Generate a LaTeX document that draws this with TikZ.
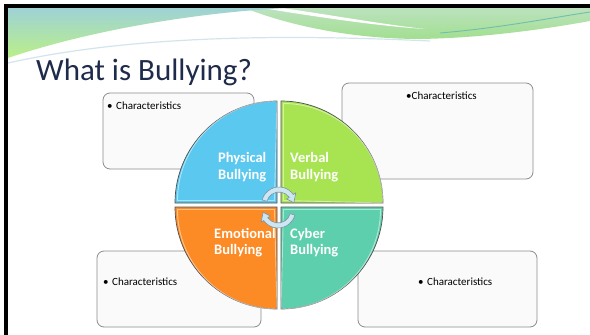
\documentclass[tikz,border=0pt]{standalone}
\usepackage{fontspec}
\setmainfont{Carlito}
\definecolor{physblue}{HTML}{5BC8EF}
\definecolor{verbgreen}{HTML}{A8E452}
\definecolor{emoorange}{HTML}{FC8A25}
\definecolor{cybteal}{HTML}{5ECFAC}
\definecolor{titlecol}{HTML}{1F2B4A}
\definecolor{boxfill}{HTML}{FAFAFA}
\definecolor{boxline}{HTML}{8C8C8C}
\definecolor{qline}{HTML}{505050}
\definecolor{arrfill}{HTML}{CDE6F2}
\definecolor{arrline}{HTML}{7C95A3}
\definecolor{hdrteal}{HTML}{9ED2D6}
\definecolor{hdrlime}{HTML}{BBEF88}
\definecolor{hdrpale}{HTML}{BCE2BE}
\definecolor{hdrblue}{HTML}{92D6EC}
\definecolor{hdrgreen}{HTML}{A2DF90}
\definecolor{hdrline}{HTML}{6EBFAE}
\definecolor{hdrfaint}{HTML}{D2E5EC}
\tikzset{
  cbox/.style={draw=boxline, fill=boxfill, line width=0.8pt, rounded corners=7pt, inner sep=0pt},
  ctext/.style={font=\fontsize{11}{13}\selectfont, text=black, inner sep=0pt},
  quad/.style={draw=qline, line width=0.7pt},
  qglow/.style={draw=white, draw opacity=0.5, line width=0.9pt},
  qtext/.style={font=\bfseries\fontsize{14.5}{16.5}\selectfont, text=white, align=left, inner sep=0pt, anchor=west},
  cyc/.style={fill=arrfill, draw=arrline, line width=0.6pt}
}
\begin{document}
\begin{tikzpicture}[x=1pt,y=-1pt]
\useasboundingbox (0,0) rectangle (590,335);
\fill[white] (0,0) rectangle (590,335);
% header
\shade[top color=hdrpale, middle color=hdrblue, bottom color=hdrgreen]
  (245,8) -- (590,8) -- (590,21) .. controls (540,30) and (480,38) .. (420,39)
  .. controls (360,39) and (295,28) .. (245,8) -- cycle;
\fill[white] (262,8) .. controls (330,19) and (380,26) .. (425,29)
  .. controls (380,24) and (325,14) .. (282,8) -- cycle;
\draw[hdrline, line width=0.9pt] (440,33) .. controls (500,28) and (550,18) .. (590,12);
\draw[hdrfaint, line width=1.2pt] (8,63) .. controls (120,38) and (260,33) .. (430,41);
\shade[top color=hdrteal, bottom color=hdrlime]
  (8,8) -- (288,8) .. controls (200,12) and (90,30) .. (8,58) -- cycle;
% frame
\fill[black] (4,4) rectangle (590,8);
\fill[black] (4,4) rectangle (8,335);
% title
\node[anchor=base west, font=\fontsize{31}{36}\selectfont, text=titlecol, inner sep=0pt] (title) at (36,80) {What is Bullying?};
% boxes
\node[cbox, minimum width=151pt, minimum height=76pt] (b1) at (178.5,131) {};
\node[cbox, minimum width=191pt, minimum height=96pt] (b2) at (437.5,131) {};
\node[cbox, minimum width=164pt, minimum height=76pt] (b3) at (179,289) {};
\node[cbox, minimum width=179pt, minimum height=76pt] (b4) at (447.5,289) {};
\node[ctext, anchor=west] (t1) at (107,106) {•\hspace{3.5pt}Characteristics};
\node[ctext] (t2) at (441.5,96) {•Characteristics};
\node[ctext, anchor=west] (t3) at (103,282) {•\hspace{3.5pt}Characteristics};
\node[ctext, anchor=west] (t4) at (418,282) {•\hspace{3.5pt}Characteristics};
% quadrants
\filldraw[quad, fill=physblue] (277,203) -- (175,203) arc[start angle=180, end angle=270, radius=102] -- cycle;
\filldraw[quad, fill=verbgreen] (281,203) -- (281,101) arc[start angle=270, end angle=360, radius=102] -- cycle;
\filldraw[quad, fill=emoorange] (277,207) -- (175,207) arc[start angle=180, end angle=90, radius=102] -- cycle;
\filldraw[quad, fill=cybteal] (281,207) -- (383,207) arc[start angle=0, end angle=90, radius=102] -- cycle;
\draw[qglow] (274.5,200.5) -- (177.5,200.5) arc[start angle=180, end angle=270, radius=99.5] -- cycle;
\draw[qglow] (283.5,200.5) -- (283.5,103.5) arc[start angle=270, end angle=360, radius=99.5] -- cycle;
\draw[qglow] (274.5,209.5) -- (177.5,209.5) arc[start angle=180, end angle=90, radius=99.5] -- cycle;
\draw[qglow] (283.5,209.5) -- (380.5,209.5) arc[start angle=0, end angle=90, radius=99.5] -- cycle;
% quadrant labels
\node[qtext] (phys) at (218,167) {Physical\\Bullying};
\node[qtext] (verb) at (290,167) {Verbal\\Bullying};
\node[qtext] (emo) at (214,242.5) {Emotional\\Bullying};
\node[qtext] (cyb) at (290,242.5) {Cyber\\Bullying};
% cycle arrows
\begin{scope}[shift={(279,204.5)}]
\filldraw[cyc] (195:17.5) arc[start angle=195, end angle=325, radius=17.5]
  -- (325:20.5) -- (353:15) -- (325:9.5) -- (325:12.5)
  arc[start angle=325, end angle=195, radius=12.5] -- cycle;
\end{scope}
\begin{scope}[shift={(278,210.5)}]
\filldraw[cyc] (15:17.5) arc[start angle=15, end angle=145, radius=17.5]
  -- (145:20.5) -- (173:15) -- (145:9.5) -- (145:12.5)
  arc[start angle=145, end angle=15, radius=12.5] -- cycle;
\end{scope}
\end{tikzpicture}
\end{document}
